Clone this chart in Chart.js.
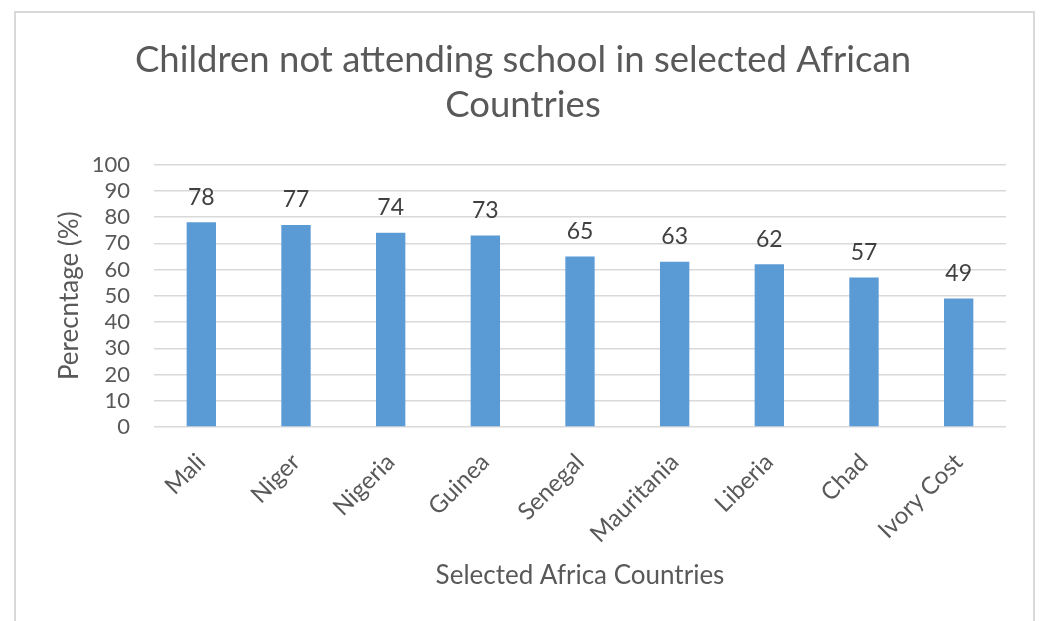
<!DOCTYPE html>
<html>
<head>
<meta charset="utf-8">
<title>Children not attending school</title>
<script src="https://cdn.jsdelivr.net/npm/chart.js@4/dist/chart.umd.min.js"></script>
<style>
  html, body { margin: 0; padding: 0; background: #fff; }
  #wrap { position: relative; width: 1042px; height: 621px; }
  #frame {
    position: absolute; left: 14px; top: 11px; width: 1021px; height: 620px;
    border: 2px solid #d9d9d9; box-sizing: border-box; pointer-events: none;
  }
  canvas { position: absolute; left: 0; top: 0; }
</style>
</head>
<body>
<div id="wrap">
  <canvas id="myGraph" width="1042" height="621"></canvas>
  <div id="frame"></div>
</div>
<script>
const countries = ["Mali", "Niger", "Nigeria", "Guinea", "Senegal", "Mauritania", "Liberia", "Chad", "Ivory Cost"];
const outOfSchool = [78, 77, 74, 73, 65, 63, 62, 57, 49];
const yTicks = [0, 10, 20, 30, 40, 50, 60, 70, 80, 90, 100];

Chart.defaults.font.family = "Lato, 'Open Sans', sans-serif";
Chart.defaults.color = "#595959";

// numbers above each bar
const valueLabels = {
  id: "valueLabels",
  afterDatasetsDraw(chart) {
    const ctx = chart.ctx;
    const meta = chart.getDatasetMeta(0);
    ctx.save();
    ctx.font = "23px Lato, 'Open Sans', sans-serif";
    ctx.fillStyle = "#404040";
    ctx.textAlign = "center";
    ctx.textBaseline = "middle";
    meta.data.forEach((bar, i) => {
      ctx.fillText(outOfSchool[i], bar.x, bar.y - 25);
    });
    ctx.restore();
  }
};

const barCtx = document.getElementById("myGraph");
new Chart(barCtx, {
  type: "bar",
  data: {
    labels: countries,
    datasets: [{
      data: outOfSchool,
      backgroundColor: "#5b9bd5",
      categoryPercentage: 1,
      barPercentage: 0.31
    }]
  },
  options: {
    responsive: false,
    animation: false,
    layout: { padding: { top: 12, left: 40, right: 36, bottom: 20 } },
    plugins: {
      legend: { display: false },
      tooltip: { enabled: false },
      title: {
        display: true,
        text: ["Children not attending school in selected African", "Countries"],
        color: "#595959",
        font: { size: 36.5, weight: "normal", lineHeight: 1.24 },
        padding: { top: 25.5, bottom: 36.5 }
      }
    },
    scales: {
      x: {
        grid: { display: false },
        border: { display: false },
        ticks: {
          color: "#595959",
          font: { size: 24 },
          minRotation: 45,
          maxRotation: 45,
          autoSkip: false,
          padding: 13
        },
        title: {
          display: true,
          text: "Selected Africa Countries",
          color: "#595959",
          font: { size: 26 },
          padding: { top: 4, bottom: 10 }
        },
        afterFit(scale) { scale.height = 174; }
      },
      y: {
        min: 0,
        max: 100,
        afterBuildTicks(scale) { scale.ticks = yTicks.map(v => ({ value: v })); },
        grid: { color: "#d9d9d9", lineWidth: 1.5, drawTicks: false },
        border: { display: false },
        ticks: { color: "#595959", font: { size: 22 }, padding: 24, autoSkip: false },
        title: {
          display: true,
          text: "Perecntage (%)",
          color: "#595959",
          font: { size: 26 },
          padding: { top: 14, bottom: 0 }
        },
        afterFit(scale) { scale.width = 114; }
      }
    }
  },
  plugins: [valueLabels]
});
</script>
</body>
</html>
